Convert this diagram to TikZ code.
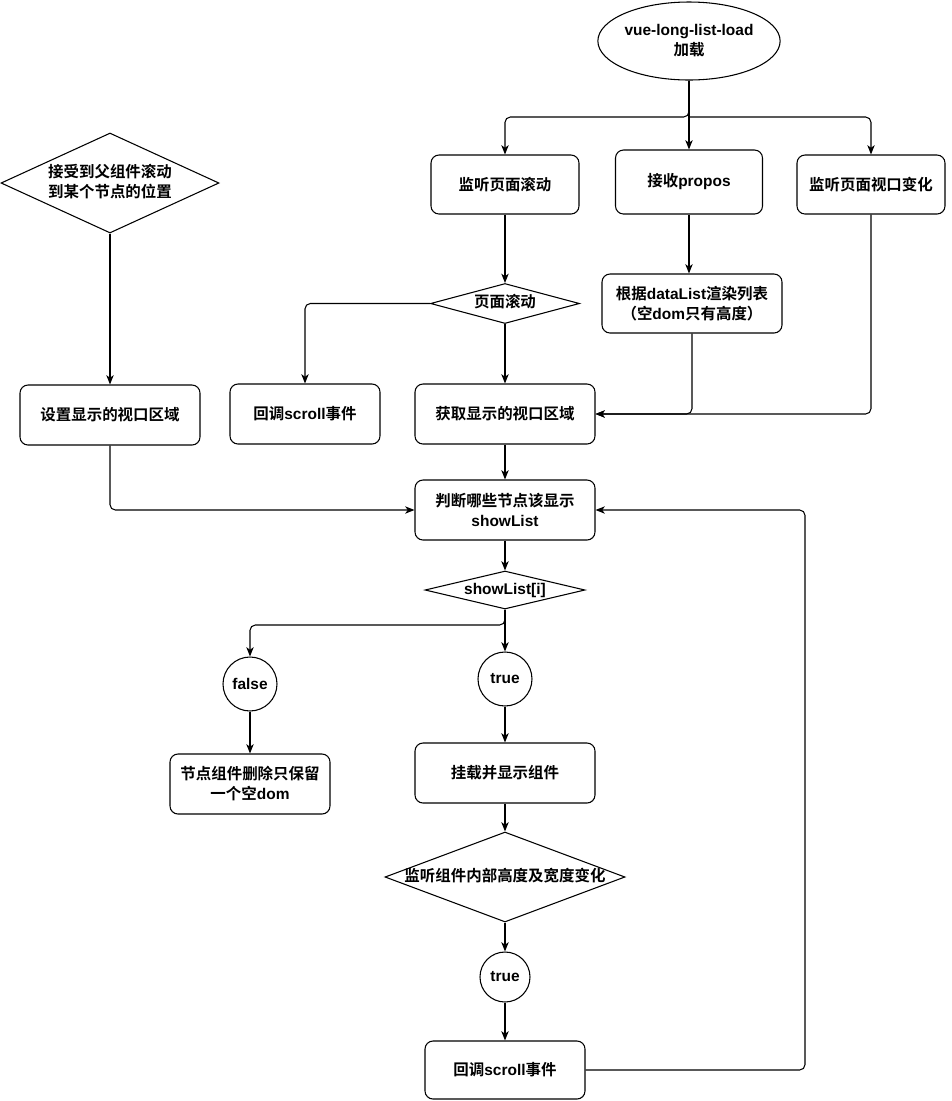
\documentclass[tikz,border=0pt]{standalone}
\usepackage{fontspec}
\setmainfont{Liberation Sans}
\newfontfamily\cjk{Noto Sans CJK SC}[BoldFont=* Bold]
\usetikzlibrary{shapes.geometric,arrows.meta}
\newdimen\px \px=0.75pt
\newcommand\zh[1]{{\cjk #1}}
\newcommand\dtext[1]{\makebox[0pt]{\begin{tabular}{@{}c@{}}#1\end{tabular}}}
\begin{document}
\begin{tikzpicture}[x=0.75pt,y=-0.75pt,
  every node/.style={font=\bfseries\fontsize{11.6}{15}\selectfont, line width=0.8pt},
  line width=0.8pt,
  wh/.style 2 args={minimum width=#1\px, minimum height=#2\px},
  box/.style={draw, fill=white, rounded corners=6pt, align=center, inner sep=0pt},
  dia/.style={draw, fill=white, diamond, inner sep=0pt, aspect=2},
  ell/.style={draw, fill=white, ellipse, align=center, inner sep=0pt},
  circ/.style={draw, fill=white, circle, inner sep=0pt, minimum size=54\px},
  arr/.style={-{Stealth[length=7pt,width=5.5pt,inset=2pt]}, rounded corners=4pt}]
\fill[white] (0,0) rectangle (951,1101);
\useasboundingbox (0,0) rectangle (951,1101);

% nodes
\node[ell, wh={181}{78}] (load) at (689,41) {vue-long-list-load\\\zh{加载}};
\node[box, wh={148}{59}] (jt) at (505,184.5) {\zh{监听页面滚动}};
\node[box, wh={147}{64}] (prop) at (689,182) {\zh{接收}propos};
\node[box, wh={148}{59}] (vp) at (871,184.5) {\zh{监听页面视口变化}};
\node[dia, wh={149}{40}] (sd) at (505,303.5) {\dtext{\zh{页面滚动}}};
\node[box, wh={180}{59}] (render) at (692,303.5) {\zh{根据}dataList\zh{渲染列表}\\\zh{（空}dom\zh{只有高度）}};
\node[dia, wh={218}{100}] (pd) at (110,183) {\dtext{\zh{接受到父组件滚动}\\\zh{到某个节点的位置}}};
\node[box, wh={180}{60}] (setv) at (110,415) {\zh{设置显示的视口区域}};
\node[box, wh={150}{60}] (cb1) at (305,414) {\zh{回调}scroll\zh{事件}};
\node[box, wh={180}{60}] (getv) at (505,414) {\zh{获取显示的视口区域}};
\node[box, wh={180}{60}] (judge) at (505,510) {\zh{判断哪些节点该显示}\\showList};
\node[dia, wh={160}{38}] (sl) at (505,590) {\dtext{showList[i]}};
\node[circ] (f) at (250,684) {false};
\node[circ] (t1) at (505,679) {true};
\node[box, wh={160}{60}] (del) at (250,784) {\zh{节点组件删除只保留}\\\zh{一个空}dom};
\node[box, wh={180}{60}] (mount) at (505,773) {\zh{挂载并显示组件}};
\node[dia, wh={240}{90}] (watch) at (505,877) {\dtext{\zh{监听组件内部高度及宽度变化}}};
\node[circ, minimum size=50\px] (t2) at (505,977) {true};
\node[box, wh={160}{58}] (cb2) at (505,1070) {\zh{回调}scroll\zh{事件}};

% junction coordinates
\coordinate (bus) at (689,117);
\coordinate (br) at (505,625);
\coordinate (ret) at (805,1070);

% connectors
\draw[arr] (load.south) -- (bus) -| (jt.north);
\draw[arr] (bus) -| (vp.north);
\draw[arr] (load.south) -- (prop.north);
\draw[arr] (jt.south) -- (sd.north);
\draw[arr] (prop.south) -- (prop.south |- render.north);
\draw[arr] (sd.west) -| (cb1.north);
\draw[arr] (sd.south) -- (getv.north);
\draw[arr] (render.south) |- (getv.east);
\draw[arr] (vp.south) |- (getv.east);
\draw[arr] (pd.south) -- (setv.north);
\draw[arr] (setv.south) |- (judge.west);
\draw[arr] (getv.south) -- (judge.north);
\draw[arr] (judge.south) -- (sl.north);
\draw[arr] (sl.south) -- (t1.north);
\draw[arr] (sl.south) -- (br) -| (f.north);
\draw[arr] (f.south) -- (del.north);
\draw[arr] (t1.south) -- (mount.north);
\draw[arr] (mount.south) -- (watch.north);
\draw[arr] (watch.south) -- (t2.north);
\draw[arr] (t2.south) -- (cb2.north);
\draw[arr] (cb2.east) -- (ret) |- (judge.east);
\end{tikzpicture}
\end{document}
